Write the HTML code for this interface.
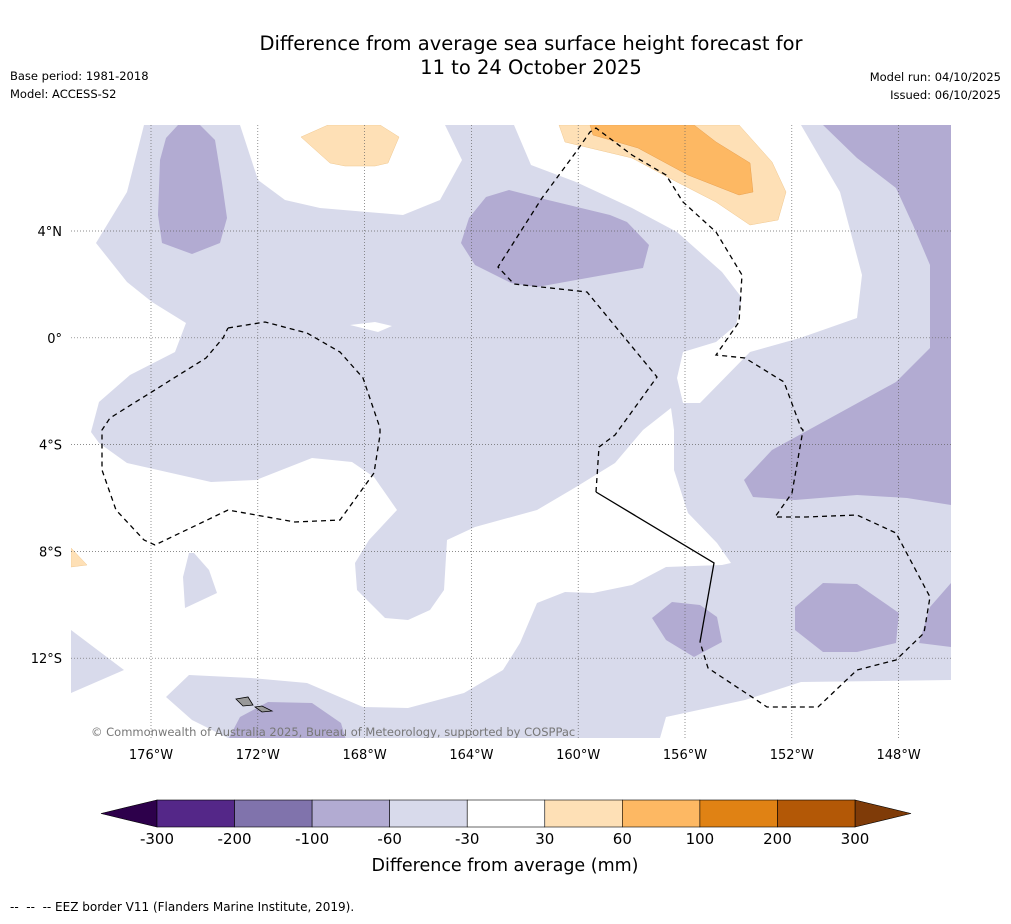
<!DOCTYPE html>
<html><head><meta charset="utf-8"><style>
body{margin:0;background:#fff;font-family:"Liberation Sans",sans-serif;}
svg text{font-family:"DejaVu Sans","Liberation Sans",sans-serif;}
</style></head><body>
<svg id="s" width="1011" height="919" xmlns="http://www.w3.org/2000/svg">
<text x="531" y="50" font-size="19.5" text-anchor="middle">Difference from average sea surface height forecast for</text>
<text x="531" y="74" font-size="19.5" text-anchor="middle">11 to 24 October 2025</text>
<text x="10" y="80" font-size="11.5">Base period: 1981-2018</text>
<text x="10" y="98" font-size="11.5">Model: ACCESS-S2</text>
<text x="1001" y="81" font-size="11.5" text-anchor="end">Model run: 04/10/2025</text>
<text x="1001" y="99" font-size="11.5" text-anchor="end">Issued: 06/10/2025</text>
<defs><clipPath id="mc"><rect x="71" y="125" width="880" height="613"/></clipPath></defs>
<g clip-path="url(#mc)">
<rect x="71" y="125" width="880" height="613" fill="#d8daeb"/>
<g fill="#fff">
<polygon points="71,125 144,125 127,192 96,243 127,282 152,302 186,323 175,352 130,375 99,402 91,432 99,443 127,463 211,482 256,480 312,458 352,462 374,477 397,510 369,540 355,563 357,590 385,618 408,620 430,610 444,590 447,540 475,527 537,510 576,487 615,463 643,430 671,408 674,430 674,470 688,513 717,543 731,563 722,565 666,567 632,585 593,593 565,592 537,603 520,643 503,670 464,693 408,708 363,707 307,683 251,678 189,675 166,697 192,720 228,738 71,738"/>
<polygon points="240,125 445,125 462,160 440,200 403,215 320,208 285,200 258,180"/>
<polygon points="514,125 531,165 576,182 632,208 677,232 722,272 742,298 736,325 716,342 683,352 677,378 683,403 700,403 750,352 800,338 857,318 862,275 840,192 801,125"/>
<polygon points="660,738 666,717 745,700 767,693 801,682 951,680 951,738"/>
<polygon points="350,325 375,322 392,326 378,332"/>
</g>
<g fill="#d8daeb">
<polygon points="71,630 124,670 71,693"/>
<polygon points="189,553 183,577 185,608 217,593 209,570 194,553"/>
</g>
<g fill="#b2abd2">
<polygon points="178,125 200,125 215,140 222,183 227,218 220,243 192,254 162,243 158,215 160,160 166,138"/>
<polygon points="509,190 486,197 469,218 461,243 475,265 511,283 537,287 576,280 643,268 649,245 627,222 610,215 548,200"/>
<polygon points="823,125 857,158 896,188 913,225 930,265 930,348 896,382 772,450 744,480 753,497 795,500 857,495 907,498 951,505 951,125"/>
<polygon points="672,602 652,618 666,640 694,657 722,642 717,617 700,605"/>
<polygon points="823,583 857,584 899,613 896,643 857,652 823,652 795,630 795,607"/>
<polygon points="951,583 930,607 919,643 951,647"/>
<polygon points="240,717 268,702 312,703 341,723 346,740 228,740"/>
</g>
<g fill="#fee0b6" stroke="#f0c890" stroke-width="0.5">
<polygon points="301,137 328,125 380,125 399,137 388,163 375,166 345,166 330,163"/>
<polygon points="559,125 565,142 590,148 632,158 677,182 716,202 750,225 778,220 786,192 772,162 739,125"/>
<polygon points="71,548 87,565 71,567"/>
</g>
<polygon points="590,125 593,135 638,148 688,175 739,195 753,192 750,163 716,142 694,125" fill="#fdb863" stroke="#e8a050" stroke-width="0.5"/>
<g stroke="#666" stroke-width="0.7" stroke-dasharray="1,2" id="grid"></g>
<g fill="none" stroke="#000" stroke-width="1.3">
<polyline stroke-dasharray="5,4" points="228,328 265,322 307,333 340,352 363,378 380,428 380,435 374,473 340,520 295,522 228,510 155,545 144,540 116,510 102,470 102,430 110,418 206,358 223,338 228,328"/>
<polyline stroke-dasharray="5,4" points="596,492 599,447 615,435 657,377 587,292 514,284 498,267 542,198 576,152 590,132 596,128 632,155 666,175 683,202 716,232 742,275 739,322 716,355 745,358 784,382 801,428 803,430 792,493 775,517 806,517 857,515 896,533 930,597 924,633 896,660 857,670 818,707 767,707 708,668 700,642"/>
<polyline points="596,492 714,563 700,642"/>
</g>
<g fill="#999" stroke="#000" stroke-width="0.8">
<polygon points="236,699 248,697 253,705 243,706"/>
<polygon points="255,707 262,706 272,711 262,712"/>
</g>
<text x="91" y="736" font-size="11.5" fill="#777">© Commonwealth of Australia 2025, Bureau of Meteorology, supported by COSPPac</text>
</g>
<g id="axes" font-size="13"></g>
<g id="cbar"></g>
<text x="505" y="871" font-size="17.5" text-anchor="middle">Difference from average (mm)</text>
<text x="10" y="911" font-size="12">--&#160;&#160;--&#160;&#160;-- EEZ border V11 (Flanders Marine Institute, 2019).</text>
</svg>
<script>
const lonTicks=["176°W","172°W","168°W","164°W","160°W","156°W","152°W","148°W"];
const latTicks=["4°N","0°","4°S","8°S","12°S"];
const cbBounds=["-300","-200","-100","-60","-30","30","60","100","200","300"];
const cbColors=["#542788","#8073ac","#b2abd2","#d8daeb","#ffffff","#fee0b6","#fdb863","#e08214","#b35806"];
const NS="http://www.w3.org/2000/svg";
function mk(t,a,p){const e=document.createElementNS(NS,t);for(const k in a)e.setAttribute(k,a[k]);p.appendChild(e);return e;}
const grid=document.getElementById('grid'),axes=document.getElementById('axes'),cb=document.getElementById('cbar');
const lonX=i=>151+i*106.8, latY=i=>231+i*106.8;
lonTicks.forEach((t,i)=>{
 const l=mk('line',{x1:lonX(i),x2:lonX(i),y1:125,y2:738},grid);
 
 
 const tx=mk('text',{x:lonX(i),y:759,'text-anchor':'middle'},axes);tx.textContent=t;
 
 
});
latTicks.forEach((t,i)=>{
 const l=mk('line',{x1:71,x2:951,y1:latY(i),y2:latY(i)},grid);
 
 
 const tx=mk('text',{x:62,y:latY(i)+5,'text-anchor':'end'},axes);tx.textContent=t;
 
 
});
const cx0=157,cx1=855,cy=800,ch=27,sw=(cx1-cx0)/cbColors.length;
const lt=mk('polygon',{points:`${cx0},${cy} ${cx0},${cy+ch} 101,${cy+ch/2}`,fill:'#2d004b',stroke:'#000','stroke-width':0.6},cb);


const rt=mk('polygon',{points:`${cx1},${cy} ${cx1},${cy+ch} 911,${cy+ch/2}`,fill:'#7f3b08',stroke:'#000','stroke-width':0.6},cb);


cbColors.forEach((c,i)=>{
 const r=mk('rect',{x:cx0+i*sw,y:cy,width:sw,height:ch,fill:c,stroke:'#000','stroke-width':0.6},cb);
 
 
});
cbBounds.forEach((b,i)=>{
 const t=mk('text',{x:cx0+i*sw,y:844,'font-size':15,'text-anchor':'middle'},cb);t.textContent=b;
 
 
});
</script>
</body></html>
